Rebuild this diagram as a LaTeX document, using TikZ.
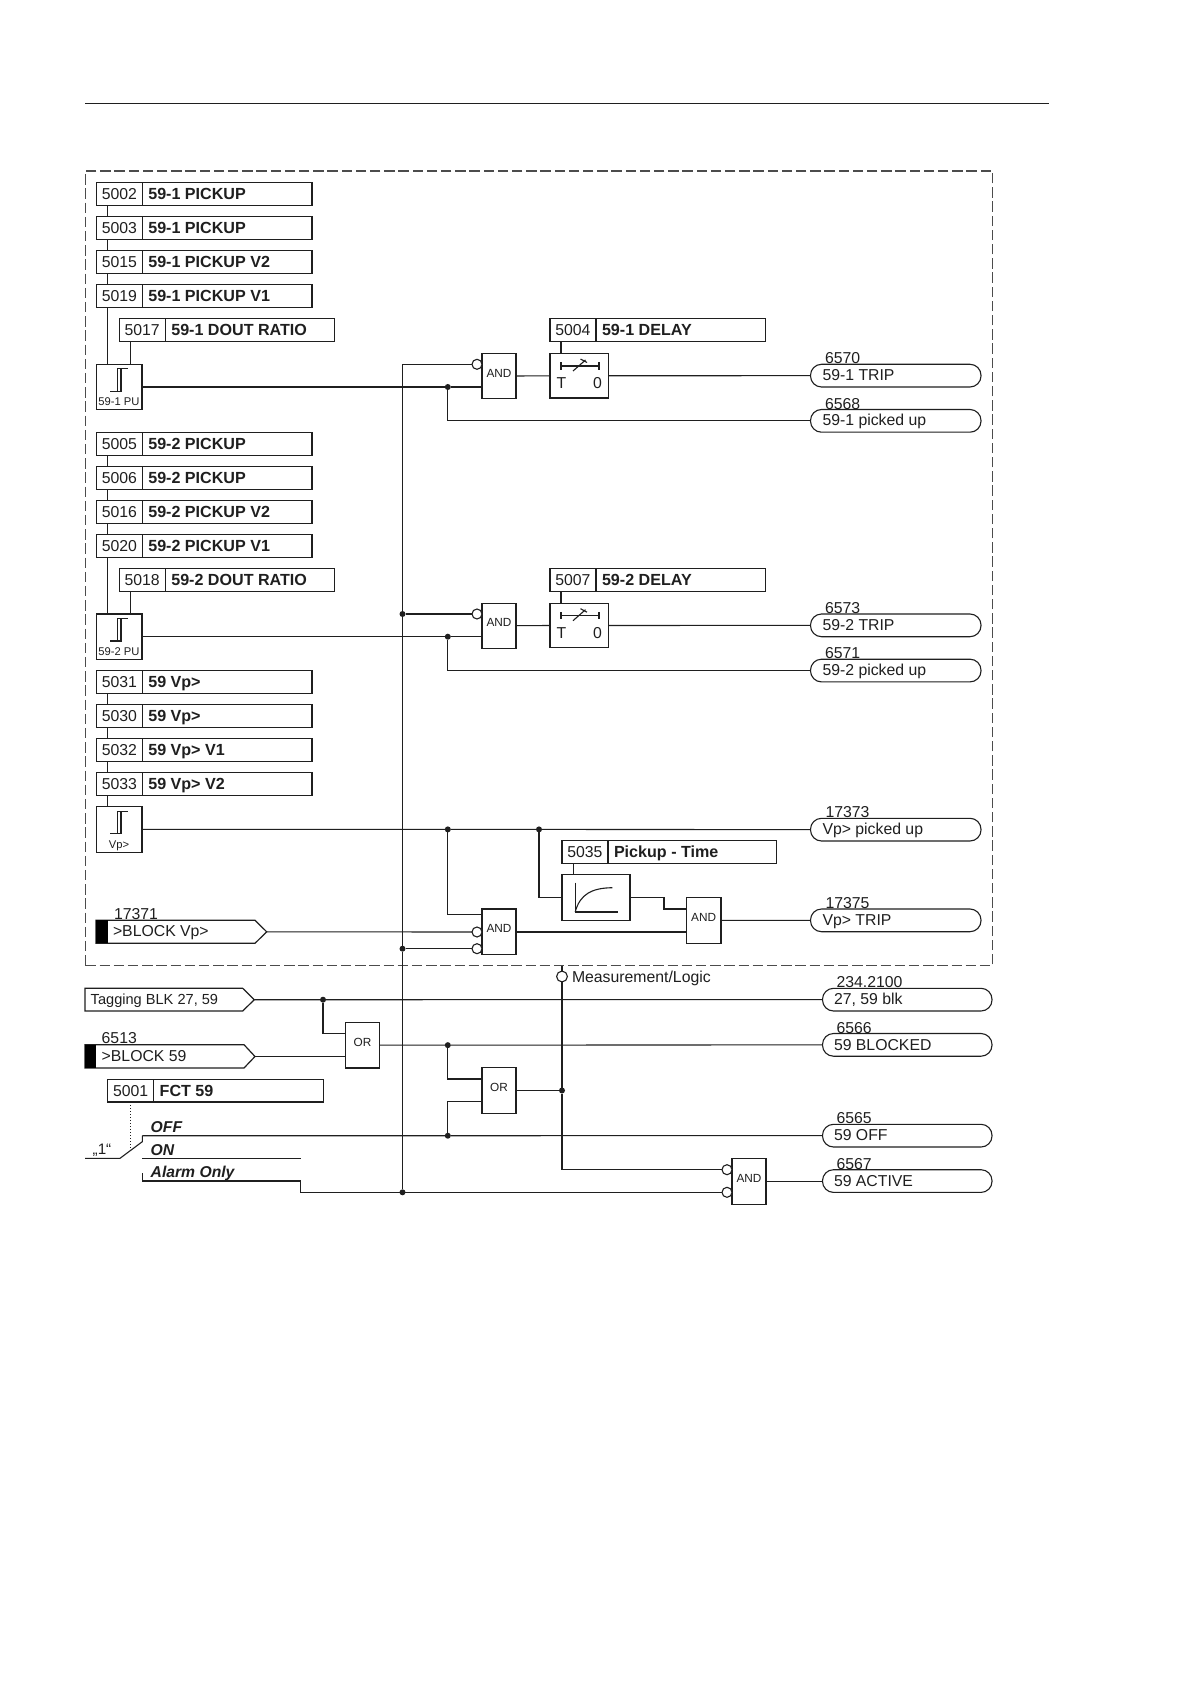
\documentclass[tikz,border=0pt]{standalone}
\usepackage{fontspec}
\setmainfont{Liberation Sans}
\definecolor{ink}{HTML}{1F1F1F}
\tikzset{
  every node/.style={inner sep=0pt,outer sep=0pt,text=ink},
  wire/.style={draw=ink,line width=0.55pt},
  boxs/.style={draw=ink,line width=0.6pt,rectangle,fill=white},
  pillbox/.style={draw=ink,line width=0.55pt,rectangle,rounded corners=5.5pt,fill=white},
  numtxt/.style={font=\fontsize{7.9pt}{9pt}\selectfont,anchor=base west},
  boldtxt/.style={font=\fontsize{8.05pt}{9pt}\selectfont\bfseries,anchor=base west},
  tagtxt/.style={font=\fontsize{7.3pt}{9pt}\selectfont,anchor=base west},
  modetxt/.style={font=\fontsize{7.85pt}{9pt}\selectfont\bfseries\itshape,anchor=base west},
  gatetxt/.style={font=\fontsize{5.9pt}{7pt}\selectfont,anchor=base},
  putxt/.style={font=\fontsize{5.6pt}{7pt}\selectfont,anchor=base},
  dotn/.style={circle,fill=ink,minimum size=3pt},
  bubble/.style={circle,draw=ink,line width=0.55pt,fill=white,minimum size=5pt},
}
% name x1 y1 x2 divider num text
\newcommand{\pbox}[7]{%
  \node[boxs,anchor=north west,minimum width={(#4-#2)*0.5pt},minimum height=11.35pt] (#1) at (#2,#3) {};
  \draw[wire] (#5,#3) -- (#5,{#3+22.7});
  \node[numtxt] (#1n) at ({#2+5.3},{#3+16.8}) {#6};
  \node[boldtxt] (#1t) at ({#5+6},{#3+16.8}) {#7};
}
% name x1 y1 x2 y2 text
\newcommand{\gate}[6]{%
  \node[boxs,anchor=north west,minimum width={(#4-#2)*0.5pt},minimum height={(#5-#3)*0.5pt}] (#1) at (#2,#3) {};
  \node[gatetxt] (#1t) at ({(#2+#4)/2},{(#3+#5)/2+1.2}) {#6};
}
% name x1 y1 x2 num numx textx text
\newcommand{\outp}[8]{%
  \node[pillbox,anchor=north west,minimum width={(#4-#2)*0.5pt},minimum height=11.35pt] (#1) at (#2,#3) {};
  \node[numtxt] (#1n) at (#6,{#3-0.5}) {#5};
  \node[numtxt] (#1t) at (#7,{#3+16.5}) {#8};
}
% hysteresis block: name x1 y1 label
\newcommand{\hyst}[4]{%
  \node[boxs,anchor=north west,minimum width=22.75pt,minimum height=22.7pt] (#1) at (#2,#3) {};
  \begin{scope}[shift={(#2,#3)}]
    \draw[wire] (13.5,27) -- (24.5,27) -- (24.5,4.5) -- (31.2,4.5);
    \draw[wire] (20.8,27) -- (20.8,4.5) -- (24.5,4.5);
    \node[putxt] (#1t) at (22.5,41.3) {#4};
  \end{scope}
}
% timer block: name x1 y1
\newcommand{\timer}[3]{%
  \node[boxs,anchor=north west,minimum width=29.3pt,minimum height=22.3pt] (#1) at (#2,#3) {};
  \begin{scope}[shift={(#2,#3)}]
    \draw[wire] (11,12.5) -- (49,12.5);
    \draw[wire] (11,8.8) -- (11,16.2);
    \draw[wire] (49,8.8) -- (49,16.2);
    \draw[wire] (23,17.5) -- (35.5,6.5);
    \draw[wire] (30.5,5.5) -- (37,9);
    \node[font=\fontsize{7.9pt}{9pt}\selectfont,anchor=base] (#1a) at (11.5,35) {T};
    \node[font=\fontsize{7.9pt}{9pt}\selectfont,anchor=base] (#1b) at (47.5,35) {0};
  \end{scope}
}
\begin{document}
\begin{tikzpicture}[x=0.5pt,y=-0.5pt]
\useasboundingbox[fill=white] (0,0) rectangle (1190,1684);

% header rule
\coordinate (ruleL) at (85,103.5);
\coordinate (ruleR) at (1049,103.5);
\draw[wire] (ruleL) -- (ruleR);

% dashed frame
\node[draw=ink!80,line width=0.55pt,dash pattern=on 5.2pt off 1.9pt,rectangle,anchor=north west,minimum width=453.7pt,minimum height=397.4pt] (frame) at (85.3,171) {};

% x guides
\coordinate (vA) at (107.7,0);
\coordinate (vB) at (130.3,0);
\coordinate (bus) at (402.5,0);
\coordinate (jx) at (447.8,0);
\coordinate (mx) at (562,0);
\coordinate (tc) at (561,0);

% ---- group 59-1
\pbox{p5002}{96.5}{182.7}{312}{142.3}{5002}{59-1 PICKUP}
\pbox{p5003}{96.5}{216.7}{312}{142.3}{5003}{59-1 PICKUP}
\pbox{p5015}{96.5}{250.7}{312}{142.3}{5015}{59-1 PICKUP V2}
\pbox{p5019}{96.5}{284.7}{312}{142.3}{5019}{59-1 PICKUP V1}
\pbox{p5017}{119.3}{318.7}{334.3}{165.3}{5017}{59-1 DOUT RATIO}
\hyst{pu1}{96.5}{364.3}{59-1 PU}
\draw[wire] (vA |- p5002.south) -- (vA |- p5003.north);
\draw[wire] (vA |- p5003.south) -- (vA |- p5015.north);
\draw[wire] (vA |- p5015.south) -- (vA |- p5019.north);
\draw[wire] (vA |- p5019.south) -- (vA |- pu1.north);
\draw[wire] (vB |- p5017.south) -- (vB |- pu1.north);

\gate{and1}{482}{353.5}{516}{398.5}{AND}
\node[bubble,anchor=east] (b1) at (482,364.3) {};
\timer{t1}{550}{353.5}
\pbox{p5004}{550}{318.7}{765.5}{596}{5004}{59-1 DELAY}
\draw[wire] (tc |- p5004.south) -- (tc |- t1.north);
\outp{o6570}{810.5}{364.3}{981}{6570}{825}{822.5}{59-1 TRIP}
\outp{o6568}{810.5}{409.5}{981}{6568}{825}{822.5}{59-1 picked up}
\node[dotn] (d1) at (jx |- pu1.east) {};
\draw[wire] (pu1.east) -- (d1) -- (and1.west |- d1);
\draw[wire] (and1.east) -- (t1.west);
\draw[wire] (t1.east) -- (o6570.west);
\draw[wire] (d1) |- (o6568.west);

% ---- group 59-2
\pbox{p5005}{96.5}{432.4}{312}{142.3}{5005}{59-2 PICKUP}
\pbox{p5006}{96.5}{466.4}{312}{142.3}{5006}{59-2 PICKUP}
\pbox{p5016}{96.5}{500.4}{312}{142.3}{5016}{59-2 PICKUP V2}
\pbox{p5020}{96.5}{534.4}{312}{142.3}{5020}{59-2 PICKUP V1}
\pbox{p5018}{119.3}{568.4}{334.3}{165.3}{5018}{59-2 DOUT RATIO}
\hyst{pu2}{96.5}{614}{59-2 PU}
\draw[wire] (vA |- p5005.south) -- (vA |- p5006.north);
\draw[wire] (vA |- p5006.south) -- (vA |- p5016.north);
\draw[wire] (vA |- p5016.south) -- (vA |- p5020.north);
\draw[wire] (vA |- p5020.south) -- (vA |- pu2.north);
\draw[wire] (vB |- p5018.south) -- (vB |- pu2.north);

\gate{and2}{482}{603.2}{516}{648.2}{AND}
\node[bubble,anchor=east] (b2) at (482,614) {};
\timer{t2}{550}{603.2}
\pbox{p5007}{550}{568.4}{765.5}{596}{5007}{59-2 DELAY}
\draw[wire] (tc |- p5007.south) -- (tc |- t2.north);
\outp{o6573}{810.5}{614}{981}{6573}{825}{822.5}{59-2 TRIP}
\outp{o6571}{810.5}{659.2}{981}{6571}{825}{822.5}{59-2 picked up}
\node[dotn] (d2) at (jx |- pu2.east) {};
\draw[wire] (pu2.east) -- (d2) -- (and2.west |- d2);
\draw[wire] (and2.east) -- (t2.west);
\draw[wire] (t2.east) -- (o6573.west);
\draw[wire] (d2) |- (o6571.west);

% ---- group Vp>
\pbox{p5031}{96.5}{670.6}{312}{142.3}{5031}{59 Vp>}
\pbox{p5030}{96.5}{704.6}{312}{142.3}{5030}{59 Vp>}
\pbox{p5032}{96.5}{738.6}{312}{142.3}{5032}{59 Vp> V1}
\pbox{p5033}{96.5}{772.6}{312}{142.3}{5033}{59 Vp> V2}
\hyst{pu3}{96.5}{806.7}{Vp>}
\draw[wire] (vA |- p5031.south) -- (vA |- p5030.north);
\draw[wire] (vA |- p5030.south) -- (vA |- p5032.north);
\draw[wire] (vA |- p5032.south) -- (vA |- p5033.north);
\draw[wire] (vA |- p5033.south) -- (vA |- pu3.north);

\outp{o17373}{810.5}{818.3}{981}{17373}{825.5}{822.5}{Vp> picked up}
\node[dotn] (d3) at (jx |- pu3.east) {};
\coordinate (dx4) at (539,0);
\node[dotn] (d4) at (dx4 |- pu3.east) {};
\draw[wire] (pu3.east) -- (d3) -- (d4) -- (o17373.west);

\pbox{p5035}{562}{840.7}{776.5}{608}{5035}{Pickup - Time}
\node[boxs,anchor=north west,minimum width=34pt,minimum height=22.8pt] (curve) at (562,874.7) {};
\draw[wire] (575.2,882.7) -- (575.2,912) -- (618,912);
\draw[wire] (575.2,912) .. controls (580,894) and (592,888) .. (612.3,887.7);
\coordinate (cx5) at (573.7,0);
\draw[wire] (cx5 |- p5035.south) -- (cx5 |- curve.north);
\draw[wire] (d4) |- (curve.west);

\gate{and3}{686.2}{897.3}{721}{943.3}{AND}
\coordinate (cb) at (664,909);
\draw[wire] (curve.east) -| (cb) -- (and3.west |- cb);
\outp{o17375}{810.5}{909}{981}{17375}{825.5}{822.5}{Vp> TRIP}
\draw[wire] (and3.east) -- (o17375.west);

\gate{and5}{482}{909}{516}{954.3}{AND}
\node[bubble,anchor=east] (b5a) at (482,932) {};
\node[bubble,anchor=east] (b5b) at (482,948.7) {};
\coordinate (t5) at (447.8,914.7);
\draw[wire] (d3) -- (t5) -- (and5.west |- t5);
\draw[wire] (and5.east |- b5a) -- (and3.west |- b5a);

% >BLOCK Vp>
\coordinate (tipA) at (266.7,931.8);
\draw[boxs] (96,920.3) -- (255,920.3) -- (tipA) -- (255,943.3) -- (96,943.3) -- cycle;
\fill[black] (96,920.3) rectangle (108,943.3);
\node[numtxt] (n17371) at (114,919.5) {17371};
\node[numtxt] (tBlockVp) at (113,936.5) {>BLOCK Vp>};
\draw[wire] (tipA) -- (b5a.west);

% Tagging
\coordinate (tipT) at (254.3,999.7);
\draw[boxs] (85,988.3) -- (242.7,988.3) -- (tipT) -- (242.7,1011) -- (85,1011) -- cycle;
\node[tagtxt] (tTag) at (90.7,1004.5) {Tagging BLK 27, 59};
\outp{o2342100}{822.5}{988.3}{992}{234.2100}{836.5}{834}{27, 59 blk}
\node[dotn] (d5) at (323,999.7) {};
\draw[wire] (tipT) -- (d5) -- (o2342100.west);

% >BLOCK 59
\coordinate (tipB) at (255,1056.5);
\draw[boxs] (85,1044.7) -- (244,1044.7) -- (tipB) -- (244,1068) -- (85,1068) -- cycle;
\fill[black] (85,1044.7) rectangle (96.3,1068);
\node[numtxt] (n6513) at (101.7,1043.5) {6513};
\node[numtxt] (tBlock59) at (101.7,1061) {>BLOCK 59};

\gate{or1}{345.3}{1022.3}{379.7}{1068}{OR}
\coordinate (or1a) at (345.3,1033.3);
\draw[wire] (d5) |- (or1a);
\draw[wire] (tipB) -- (or1.west |- tipB);
\outp{o6566}{822.5}{1033.5}{992}{6566}{836.5}{834}{59 BLOCKED}
\node[dotn] (d6) at (jx |- or1.east) {};
\draw[wire] (or1.east) -- (d6) -- (o6566.west);

\gate{or2}{482}{1067.7}{516}{1113.3}{OR}
\coordinate (or2a) at (482,1079);
\coordinate (or2b) at (482,1101.7);
\draw[wire] (d6) |- (or2a);
\node[dotn] (d8) at (mx |- or2.east) {};
\draw[wire] (or2.east) -- (d8);

% FCT 59
\pbox{p5001}{107.7}{1079.3}{323.3}{153.7}{5001}{FCT 59}
\coordinate (swL) at (85,1158.3);
\coordinate (swA) at (120,1158.3);
\coordinate (swB) at (142.3,1141.7);
\coordinate (swC) at (142.3,1135.7);
\coordinate (dotted) at (130.7,1149);
\draw[wire] (swL) -- (swA) -- (swB) -- (swC);
\draw[draw=ink,line width=0.5pt,densely dotted] (p5001.south -| dotted) -- (dotted);
\node[font=\fontsize{7.6pt}{9pt}\selectfont,anchor=base] (one) at (102,1154.5) {„1“};
\node[modetxt] (mOff) at (150.7,1132.5) {OFF};
\node[modetxt] (mOn) at (150.7,1155.5) {ON};
\node[modetxt] (mAl) at (150.7,1177.5) {Alarm Only};
\coordinate (onL) at (142.3,1158.3);
\coordinate (onR) at (300.7,1158.3);
\draw[wire] (onL) -- (onR);

\outp{o6565}{822.5}{1124.3}{992}{6565}{836.5}{834}{59 OFF}
\node[dotn] (d7) at (jx |- swC) {};
\draw[wire] (swC) -- (d7) -- (o6565.west);
\draw[wire] (d7) |- (or2b);

% AND4
\gate{and4}{732}{1158.7}{766}{1204.3}{AND}
\node[bubble,anchor=east] (b4a) at (732,1169.7) {};
\node[bubble,anchor=east] (b4b) at (732,1192.3) {};
\outp{o6567}{822.5}{1169.7}{992}{6567}{836.5}{834}{59 ACTIVE}
\draw[wire] (and4.east) -- (and4.east -| o6567.west);

% Alarm path
\coordinate (alA) at (142.3,1173);
\coordinate (alB) at (142.3,1181);
\coordinate (alC) at (300.7,1181);
\coordinate (alD) at (300.7,1192.3);
\draw[wire] (alA) -- (alB) -- (alC) -- (alD) -- (b4b.west);

% Bus
\node[dotn] (db1) at (bus |- b2.west) {};
\node[dotn] (db2) at (bus |- b5b.west) {};
\node[dotn] (db3) at (bus |- alD) {};
\draw[wire] (b1.west) -| (db1);
\draw[wire] (db1) -- (db2) -- (db3);
\draw[wire] (db1) -- (b2.west);
\draw[wire] (db2) -- (b5b.west);

% Measurement/Logic
\node[bubble,minimum size=5.4pt] (bm) at (mx |- 0,976.5) {};
\node[numtxt] (tMeas) at (572,982.5) {Measurement/Logic};
\draw[wire] (mx |- frame.south) -- (bm.north);
\draw[wire] (bm.south) -- (d8);
\draw[wire] (d8) |- (b4a.west);
\end{tikzpicture}
\end{document}
